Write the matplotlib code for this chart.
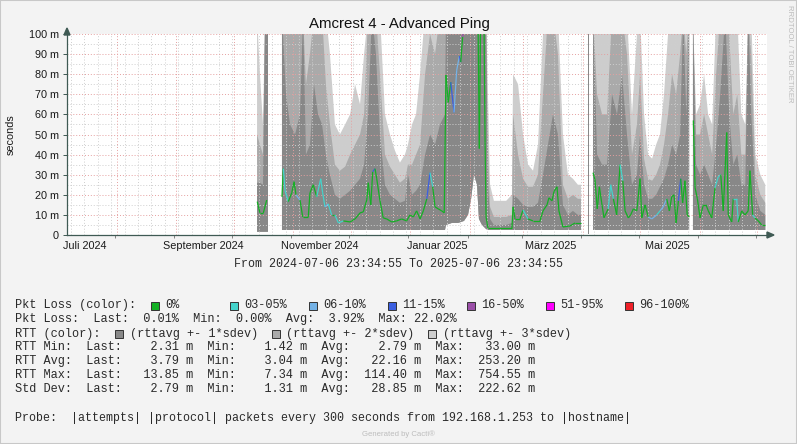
import numpy as np
import pandas as pd
import matplotlib
matplotlib.use("Agg")
import matplotlib.pyplot as plt
import matplotlib.dates as mdates
from matplotlib.patches import Rectangle, Polygon

nan = np.nan
plt.rcParams["font.family"] = ["Liberation Sans", "DejaVu Sans"]

start = pd.Timestamp("2024-07-06 23:34:55")
end = pd.Timestamp("2025-07-06 23:34:55")

# ---- average RTT line (days after start, ms, loss class 0..6) ----
line_day = [99.2, 100.6, 102.4, 104.1, 108.0,
            112.1, 112.8, 113.7, 115.4, 117.2, 118.4, 119.4, 121.5, 122.9, 125.8,
            126.7, 128.4, 130.2, 132.3, 133.3, 134.5, 136.2, 138.0, 139.7, 141.5,
            144.1, 147.6, 150.2, 152.8, 154.5, 156.3, 157.1, 158.4, 159.4, 160.6,
            161.5, 163.2, 164.9, 166.7, 169.3, 171.9, 174.5, 177.1, 178.8, 180.6,
            182.3, 184.1, 185.8, 187.6, 189.3, 190.7, 191.9, 193.6, 195.4, 196.7,
            197.6, 198.8, 200.1, 201.8, 203.2, 204.6, 205.3, 206.3, 207.5, 214.3,
            215.0, 215.7, 217.4, 218.0, 218.5, 219.5, 232.0, 232.6, 233.6, 236.2,
            237.8, 240.4, 243.0, 246.6, 248.2, 250.3, 251.3, 252.9, 253.9, 255.5,
            256.5, 258.6, 262.3, 264.9, 268.0, 271.0,
            274.3, 275.3, 276.5, 277.6, 278.8, 280.0, 282.2, 283.5, 284.9, 286.6,
            288.4, 289.8, 291.0, 292.7, 293.9, 295.3, 297.1, 298.8, 299.7, 301.4,
            303.1, 304.9, 307.5, 309.2, 310.9, 312.7, 314.1, 315.3, 316.5, 317.6,
            318.8, 320.0, 321.0, 322.2, 323.4, 324.5, 325.5,
            326.6, 327.5, 328.7, 330.1, 331.8, 333.2, 334.4, 336.2, 337.9, 339.6,
            340.9, 342.2, 344.0, 344.8, 346.6, 347.4, 349.2, 350.0, 351.8, 353.5,
            355.2, 356.1, 357.5, 358.7, 360.5, 362.2, 363.9]
line_ms = [16.6, 11, 11, 17.4, nan,
           19, 33, 22, 16.6, 21, 26.5, 20, 17.4, 9, 9,
           21, 25, 19, 28, 21, 14, 15.5, 10, 10, 6,
           7, 6.5, 8, 11, 11.5, 17.4, 26, 15, 31.5, 33,
           28, 17, 8.5, 8, 6.5, 7, 8, 7, 10, 9,
           12, 8, 12, 18, 31, 24, 14, 13, 12, 11,
           79.6, 66, 76, 61, 82, 89, 86, 98.6, 110, 110,
           43, 110, 110, 46, 9, 3.5, 3.5, 14, 8, 8,
           12.5, 8, 7, 7, 12, 15, 18.5, 17, 21.5, 24,
           12, 4, 4.5, 6, 6, nan,
           31, 27.5, 13, 24, 16, 8.6, 13, 25, 18, 10,
           35, 27, 12, 8.5, 10, 13, 12, 28, 8.5, 15,
           9, 8, 10, 12, 14, 18, 12, 19, 20, 6,
           17, 28, 16, 27, 10, 9, nan,
           57, 23.5, 18, 8.5, 15, 15, 12, 8.5, 23.5, 29,
           30, 12, 51, 10, 6.5, 18, 18, 6.5, 12, 10,
           12, 32, 10, 8.5, 7, 5, 5]
line_loss = [0, 0, 0, 0, 0,
             1, 0, 1, 1, 0, 0, 0, 2, 0, 0,
             0, 0, 0, 1, 1, 1, 2, 1, 0, 1,
             1, 0, 0, 0, 0, 0, 0, 0, 0, 3,
             0, 0, 0, 0, 0, 0, 0, 0, 0, 0,
             0, 0, 0, 0, 3, 1, 0, 0, 0, 0,
             0, 0, 0, 3, 2, 2, 3, 0, 4, 0,
             0, 0, 0, 0, 0, 0, 0, 0, 0, 0,
             0, 1, 0, 0, 0, 0, 0, 0, 0, 0,
             0, 0, 0, 0, 0, 0,
             0, 0, 0, 0, 0, 0, 0, 1, 1, 0,
             0, 1, 0, 0, 0, 0, 0, 0, 0, 0,
             0, 2, 2, 1, 2, 2, 0, 0, 0, 0,
             0, 3, 0, 0, 0, 0, 0,
             4, 0, 0, 0, 0, 0, 0, 0, 0, 1,
             1, 0, 0, 0, 0, 0, 1, 1, 0, 0,
             0, 0, 0, 1, 0, 0, 0]

# ---- deviation bands (days after start, ms) ----
band_day = [99.1, 100.6, 102.2, 103.3, 104.8, 108.0,
            112.1, 114.2, 116.3, 118.9, 121.5, 123.1, 124.6, 126.7, 128.8, 130.9,
            133.0, 135.0, 137.1, 139.7, 142.3, 145.0, 147.6, 150.2, 152.8, 154.9,
            157.0, 159.0, 161.1, 163.2, 165.8, 168.4, 171.0, 173.6, 176.2, 177.8,
            179.9, 182.0, 184.1, 186.7, 189.3, 191.9, 194.5, 197.1,
            197.6, 200.7, 203.9, 207.0, 209.1, 210.7, 212.2, 213.8, 214.8, 216.4, 218.5,
            219.5, 220.6, 222.6, 225.8, 229.0, 232.0,
            232.6, 235.2, 237.8, 240.4, 243.0, 245.6, 248.2, 250.8, 253.4, 256.0,
            258.6, 261.2, 263.8, 266.4, 268.0, 270.5,
            271.6, 272.4, 273.3,
            274.3, 276.4, 279.0, 281.6, 284.2, 286.8, 289.4, 292.0, 294.6, 297.2,
            298.8, 300.9, 303.0, 305.1, 307.2, 309.2, 311.3, 313.4, 315.5, 317.6,
            319.7, 321.3, 322.9, 324.4, 325.4,
            326.4, 328.0, 330.1, 332.2, 334.3, 336.4, 338.5, 340.6, 343.2, 345.3,
            347.4, 349.5, 351.6, 353.7, 355.2, 356.8, 358.9, 361.5, 364.1]
band_lo = ([1.6] * 5 + [nan] + [2.5] * 38
           + [5, 6, 6, 7, 10, 18, 30, 25, 8, 5, 3]
           + [2.5] * 6 + [2.5] * 15 + [nan]
           + [0.5, 0.5, nan] + [2.5] * 24 + [nan] + [2.5] * 19)
band_sd1 = ([26, 26, 25, 110, 110, nan]
            + [110, 70, 55, 50, 60, 110, 40, 45, 75, 60, 55, 40, 30, 20, 18, 20, 22, 25, 28,
               35, 60, 110, 90, 50, 25, 20, 18, 16, 17, 30, 20, 22, 25, 40, 50, 45, 55, 60]
            + [110] * 11 + [25, 8, 5, 5, 5, 6]
            + [20, 18, 15, 14, 14, 16, 30, 45, 60, 50, 15, 10, 12, 10, 10, nan]
            + [110, 110, nan]
            + [110, 40, 35, 35, 70, 60, 80, 50, 25, 30, 50, 25, 18, 18, 20, 24, 28, 35,
               45, 40, 50, 110, 60, 110, nan]
            + [110, 35, 30, 35, 30, 25, 45, 70, 110, 60, 35, 40, 25, 25, 110, 60, 20, 12, 10])
band_sd2 = ([50, 45, 40, 110, 110, nan]
            + [110, 110, 110, 110, 110, 110, 75, 90, 110, 110, 110, 75, 55, 35, 32, 34, 40,
               45, 50, 60, 110, 110, 110, 80, 40, 34, 30, 26, 28, 35, 35, 40, 45, 80, 100,
               90, 110, 110]
            + [110] * 11 + [45, 14, 9, 9, 9, 10]
            + [60, 40, 28, 24, 24, 30, 70, 110, 110, 90, 25, 18, 20, 18, 18, nan]
            + [110, 110, nan]
            + [110, 70, 60, 60, 110, 110, 110, 90, 40, 55, 80, 38, 28, 27, 30, 35, 45, 60,
               80, 70, 90, 110, 90, 110, nan]
            + [110, 50, 50, 60, 50, 40, 80, 110, 110, 100, 60, 70, 40, 40, 110, 90, 30, 20, 16])
band_sd3 = ([110, 80, 55, 110, 110, nan]
            + [110] * 12 + [90, 55, 50, 55, 60, 75, 65, 90, 110, 110, 110, 110, 60, 50, 42,
                            36, 40, 45, 55, 60, 80, 110, 110, 110, 110, 110]
            + [110] * 11 + [70, 25, 17, 17, 17, 20]
            + [80, 75, 50, 35, 32, 45, 100, 110, 110, 110, 50, 30, 28, 25, 25, nan]
            + [110, 110, nan]
            + [110, 110, 110, 100, 110, 110, 110, 110, 60, 100, 110, 60, 40, 38, 45, 50,
               70, 100, 110, 110, 110, 110, 110, 110, nan]
            + [110, 60, 65, 80, 60, 55, 110, 110, 110, 110, 110, 110, 60, 55, 110, 110, 40,
               30, 25])

# ---- legend texts ----
loss_labels = ["0%", "03-05%", "06-10%", "11-15%", "16-50%", "51-95%", "96-100%"]
loss_colors = ["#14b024", "#44d3cb", "#74b2e6", "#3c5fe0", "#9b4fa8", "#ff00ff", "#ee2028"]
band_labels = ["(rttavg +- 1*sdev)", "(rttavg +- 2*sdev)", "(rttavg +- 3*sdev)"]
band_colors = ["#888888", "#aaaaaa", "#cdcdcd"]
pkt_stats = [0.01, 0.00, 3.92, 22.02]
rtt_rows = ["RTT Min:", "RTT Avg:", "RTT Max:", "Std Dev:"]
rtt_last = [2.31, 3.79, 13.85, 2.79]
rtt_min = [1.42, 3.04, 7.34, 1.31]
rtt_avg = [2.79, 22.16, 114.40, 28.85]
rtt_max = [33.00, 253.20, 754.55, 222.62]
month_de = {1: "Januar", 3: "März", 5: "Mai", 7: "Juli", 9: "September", 11: "November"}


def to_dates(days):
    return (start + pd.to_timedelta(np.asarray(days, dtype=float), unit="D")).to_numpy()


W, H = 797, 444
fig = plt.figure(figsize=(W / 100, H / 100), dpi=100, facecolor="#f3f3f3")
ax = fig.add_axes([67 / W, 1 - 235 / H, 700 / W, 201 / H])
ax.set_facecolor("white")

bx = to_dates(band_day)
lo = np.array(band_lo, dtype=float)
ax.fill_between(bx, lo, np.array(band_sd3, dtype=float), color=band_colors[2], lw=0, zorder=1)
ax.fill_between(bx, lo, np.array(band_sd2, dtype=float), color=band_colors[1], lw=0, zorder=1.1)
ax.fill_between(bx, lo, np.array(band_sd1, dtype=float), color=band_colors[0], lw=0, zorder=1.2)

# grid on top of the bands
grid_ls = (0, (1, 2))
for v in range(5, 100, 10):
    ax.axhline(v, color="#cfcfcf", lw=0.7, ls=grid_ls, zorder=2)
for d in pd.date_range(start, end, freq="W-MON"):
    ax.axvline(d, color="#cfcfcf", lw=0.7, ls=grid_ls, zorder=2)
for v in range(10, 101, 10):
    ax.axhline(v, color="#e5a0a0", lw=0.7, ls=grid_ls, zorder=2.1)
for d in pd.date_range(start, end, freq="MS"):
    ax.axvline(d, color="#e5a0a0", lw=0.7, ls=grid_ls, zorder=2.1)

# average line coloured by packet loss
lx = to_dates(line_day)
for i in range(len(line_ms) - 1):
    if np.isnan(line_ms[i]) or np.isnan(line_ms[i + 1]):
        continue
    ax.plot(lx[i:i + 2], line_ms[i:i + 2], color=loss_colors[line_loss[i + 1]],
            lw=0.9, solid_capstyle="butt", zorder=3)

ax.set_xlim(start, end)
ax.set_ylim(0, 100)
axis_c = "#3f5a54"
for s in ["top", "right"]:
    ax.spines[s].set_visible(False)
for s in ["left", "bottom"]:
    ax.spines[s].set_color(axis_c)
    ax.spines[s].set_linewidth(0.9)
    ax.spines[s].set_zorder(4)

ax.set_yticks(range(0, 101, 10))
ax.set_yticklabels(["0"] + [f"{v} m" for v in range(10, 101, 10)])
ax.tick_params(axis="y", length=3, width=0.7, color=axis_c, pad=3,
               labelsize=7.8, labelcolor="#1a1a1a")
ax.xaxis.set_major_locator(mdates.MonthLocator(bymonth=[1, 3, 5, 7, 9, 11], bymonthday=16))
ax.xaxis.set_major_formatter(plt.FuncFormatter(
    lambda v, p: f"{month_de[mdates.num2date(v).month]} {mdates.num2date(v).year}"))
ax.xaxis.set_minor_locator(mdates.MonthLocator(bymonthday=1))
ax.tick_params(axis="x", which="major", length=0, pad=4.5, labelsize=7.8, labelcolor="#1a1a1a")
ax.tick_params(axis="x", which="minor", length=2, width=0.6, color="#707070")

# axis arrows
fig.add_artist(Polygon([(64 / W, 1 - 35 / H), (70 / W, 1 - 35 / H), (67 / W, 1 - 28 / H)],
                       closed=True, color=axis_c, transform=fig.transFigure))
fig.add_artist(Polygon([(767 / W, 1 - 232 / H), (767 / W, 1 - 238 / H), (774 / W, 1 - 235 / H)],
                       closed=True, color=axis_c, transform=fig.transFigure))


def ftext(x, y, s, **kw):
    fig.text(x / W, 1 - y / H, s, **kw)


def fbox(x, y, color):
    fig.add_artist(Rectangle((x / W, 1 - (y + 8) / H), 8 / W, 8 / H, facecolor=color,
                             edgecolor="#333333", lw=0.7, transform=fig.transFigure))


ftext(399, 28.3, "Amcrest 4 - Advanced Ping", ha="center", va="baseline", fontsize=10.8,
      color="#111111")
ftext(11, 135, "seconds", rotation=90, ha="center", va="center", fontsize=7.8, color="#1a1a1a")
ftext(789, 5, "RRDTOOL / TOBI OETIKER", rotation=270, ha="center", va="top", fontsize=5.6,
      color="#bcbcbc")
ftext(398.5, 436, "Generated by Cacti®", ha="center", va="baseline", fontsize=5.6,
      color="#bdbdbd")

mono = dict(family="Liberation Mono", fontsize=8.54, color="#2a2a2a", va="baseline")
mono_s = dict(mono, fontsize=8.38)
ftext(398, 267, f"From {start:%Y-%m-%d %H:%M:%S} To {end:%Y-%m-%d %H:%M:%S}", ha="center",
      **mono_s)

ftext(15, 308.3, "Pkt Loss (color):", **mono)
for i, (lab, col) in enumerate(zip(loss_labels, loss_colors)):
    fbox(151 + 79 * i, 301.5, col)
    ftext(165 + 79 * i, 308.3, lab, **mono)

ftext(15, 322.3, "Pkt Loss:  Last:{:6.2f}%  Min:{:6.2f}%  Avg:{:6.2f}%  Max:{:6.2f}%".format(*pkt_stats),
      **mono)

ftext(15, 336.7, "RTT (color):", **mono)
for i, (lab, col) in enumerate(zip(band_labels, band_colors)):
    fbox(115 + 156.5 * i, 329.5, col)
    ftext(130 + 156.5 * i, 336.7, lab, **mono)

for k, name in enumerate(rtt_rows):
    row = (f"{name:<8}  Last:{rtt_last[k]:8.2f} m  Min:{rtt_min[k]:8.2f} m  "
           f"Avg:{rtt_avg[k]:8.2f} m  Max:{rtt_max[k]:8.2f} m")
    ftext(15, 350.2 + 14.05 * k, row, **mono)

ftext(15, 420.7, "Probe:  |attempts| |protocol| packets every 300 seconds from "
      "192.168.1.253 to |hostname|", **mono_s)

fig.add_artist(Rectangle((0, 0), 1, 1, fill=False, edgecolor="#c8c8c8", lw=1.5,
                         transform=fig.transFigure))

fig.savefig("out.png", dpi=100, facecolor=fig.get_facecolor())
